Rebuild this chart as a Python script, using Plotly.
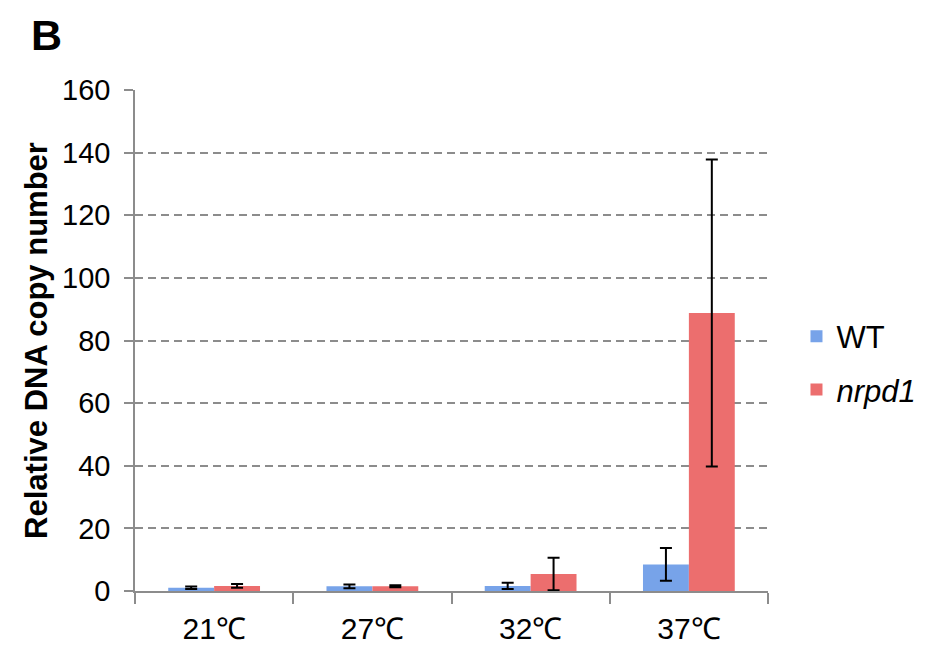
import plotly.graph_objects as go

categories = ["21℃", "27℃", "32℃", "37℃"]
wt_values = [1.0, 1.5, 1.6, 8.5]
wt_errors = [0.4, 0.6, 1.0, 5.2]
nrpd1_values = [1.6, 1.5, 5.4, 88.8]
nrpd1_errors = [0.6, 0.3, 5.2, 49.0]
y_ticks = [0, 20, 40, 60, 80, 100, 120, 140, 160]

font_family = "Liberation Sans, Arial, sans-serif"

fig = go.Figure()
fig.add_trace(go.Bar(
    x=categories, y=wt_values, name="WT", legendgroup="wt",
    marker=dict(color="#77a3e9", line=dict(width=0)),
    error_y=dict(type="data", array=wt_errors, color="black", thickness=2, width=6),
))
fig.add_trace(go.Bar(
    x=categories, y=nrpd1_values, name="<i>nrpd1</i>", legendgroup="nrpd1",
    marker=dict(color="#ec6e6e", line=dict(width=0)),
    error_y=dict(type="data", array=nrpd1_errors, color="black", thickness=2, width=6),
))

fig.update_layout(
    width=925, height=652,
    margin=dict(l=127, r=165, t=82, b=69),
    paper_bgcolor="white", plot_bgcolor="white",
    barmode="group", bargap=0.42, bargroupgap=0,
    font=dict(family=font_family, size=29, color="black"),
    legend=dict(x=1.045, y=0.455, yanchor="middle", xanchor="left",
                font=dict(size=31), tracegroupgap=10, traceorder="grouped"),
    xaxis=dict(
        showline=True, linecolor="#8c8c8c", linewidth=1.5,
        ticks="outside", tickson="boundaries", ticklen=11, tickcolor="#8c8c8c",
        tickwidth=1.5, tickfont=dict(size=30), showgrid=False,
        ticklabelstandoff=10,
    ),
    yaxis=dict(
        range=[0, 160], tickvals=y_ticks, showline=True, linecolor="#8c8c8c",
        linewidth=1.5, ticks="outside", ticklen=9, tickcolor="#8c8c8c", tickwidth=1.5,
        showgrid=True, gridcolor="#8c8c8c", griddash="8px,5px", gridwidth=1.5,
        zeroline=False, tickfont=dict(size=29), ticklabelstandoff=8,
        title=dict(text="<b>Relative DNA copy number</b>", font=dict(size=31), standoff=5),
    ),
)
fig.add_annotation(text="<b>B</b>", xref="paper", yref="paper", x=-0.168, y=1.162,
                   xanchor="left", yanchor="top", showarrow=False,
                   font=dict(size=43, family=font_family))
fig.write_html("out.html")
